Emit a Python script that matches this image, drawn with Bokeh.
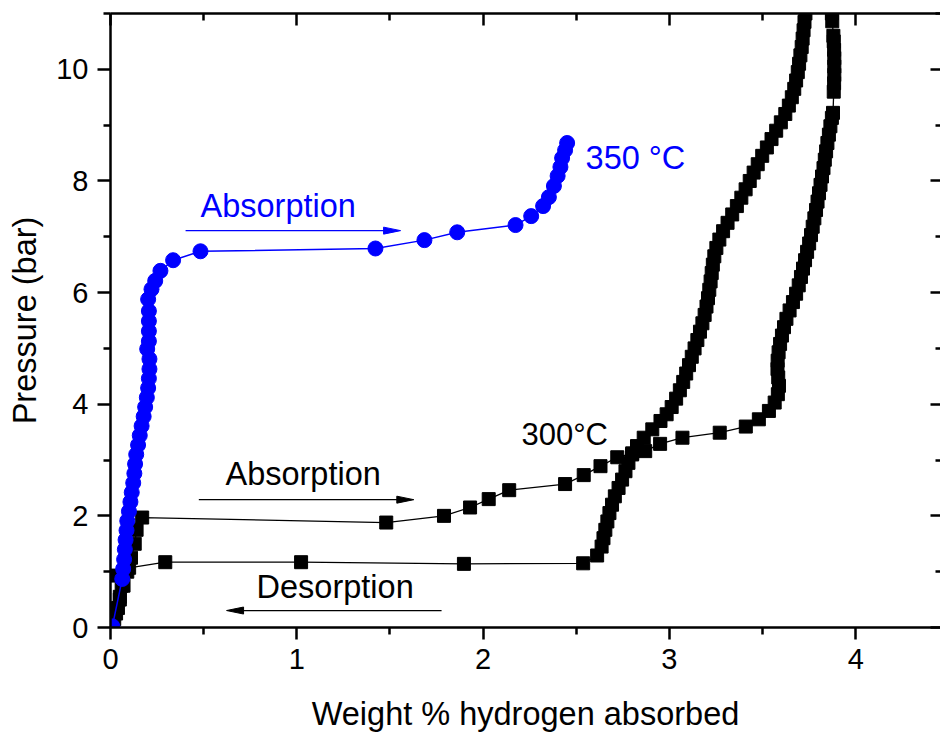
from bokeh.plotting import figure
from bokeh.models import LinearAxis, Range1d, FixedTicker, Label
from bokeh.embed import file_html
from bokeh.resources import INLINE

# ---------------- data ----------------
X_TICKS = [0, 1, 2, 3, 4]
X_MINOR = [0.5, 1.5, 2.5, 3.5]
Y_TICKS = [0, 2, 4, 6, 8, 10]
Y_MINOR = [1, 3, 5, 7, 9, 11]

# 300 C absorption (wt%, bar)
abs300_x = [0.00, 0.03, 0.05, 0.07, 0.09, 0.11, 0.13, 0.14, 0.17, 1.48, 1.79, 1.93, 2.03,
            2.14, 2.44, 2.54, 2.63, 2.72, 2.80, 2.87, 2.95, 3.07, 3.27, 3.41, 3.48, 3.534,
            3.565, 3.582, 3.588, 3.584, 3.580, 3.581, 3.586, 3.594, 3.604, 3.615, 3.628,
            3.645, 3.663, 3.680, 3.694, 3.706, 3.717, 3.728, 3.739, 3.750, 3.760, 3.769,
            3.778, 3.787, 3.795, 3.803, 3.811, 3.819, 3.827, 3.834, 3.841, 3.848, 3.856,
            3.864, 3.872, 3.878, 3.882, 3.884, 3.885, 3.885, 3.885, 3.884, 3.882, 3.880,
            3.874, 3.872, 3.870]
abs300_y = [0.00, 0.25, 0.50, 0.75, 1.00, 1.25, 1.50, 1.75, 1.97, 1.88, 2.00, 2.15, 2.30,
            2.46, 2.57, 2.73, 2.89, 3.05, 3.12, 3.16, 3.29, 3.40, 3.49, 3.60, 3.73, 3.88,
            4.03, 4.18, 4.33, 4.48, 4.63, 4.78, 4.93, 5.08, 5.23, 5.38, 5.53,
            5.68, 5.83, 5.98, 6.13, 6.28, 6.43, 6.58, 6.73, 6.88, 7.03, 7.18,
            7.33, 7.48, 7.63, 7.78, 7.93, 8.08, 8.23, 8.38, 8.53, 8.68, 8.83,
            8.98, 9.13, 9.22, 9.60, 9.75, 9.90, 10.05, 10.20, 10.35, 10.50, 10.60,
            10.86, 11.00, 11.15]

# 300 C desorption (wt%, bar)
des300_x = [3.735, 3.730, 3.725, 3.720, 3.715, 3.710, 3.703, 3.696, 3.689, 3.680, 3.670,
            3.657, 3.641, 3.622, 3.598, 3.573, 3.548, 3.523, 3.498, 3.474, 3.452, 3.431,
            3.409, 3.386, 3.362, 3.337, 3.312, 3.288, 3.268, 3.252, 3.241, 3.233, 3.227,
            3.221, 3.214, 3.207, 3.199, 3.189, 3.177, 3.164, 3.150, 3.135, 3.120, 3.105,
            3.090, 3.074, 3.056, 3.036, 3.012, 2.985, 2.952, 2.908, 2.862, 2.826, 2.800,
            2.780, 2.764, 2.746, 2.727, 2.707, 2.692, 2.678, 2.667, 2.656, 2.646, 2.636,
            2.612, 2.537, 1.897, 1.023, 0.294, 0.10, 0.02, 0.06, 0.05, 0.04, 0.02, 0.01]
des300_y = [11.15, 11.00, 10.85, 10.70, 10.55, 10.40, 10.25, 10.10, 9.95, 9.80, 9.65,
            9.50, 9.35, 9.20, 9.05, 8.90, 8.75, 8.60, 8.45, 8.30, 8.15, 8.00,
            7.85, 7.70, 7.55, 7.40, 7.25, 7.10, 6.95, 6.80, 6.65, 6.50, 6.35,
            6.20, 6.05, 5.90, 5.75, 5.60, 5.45, 5.30, 5.15, 5.00, 4.85, 4.70,
            4.55, 4.40, 4.25, 4.10, 3.95, 3.82, 3.70, 3.55, 3.40, 3.25, 3.10,
            2.95, 2.80, 2.65, 2.50, 2.35, 2.20, 2.05, 1.90, 1.75, 1.60, 1.45,
            1.29, 1.15, 1.14, 1.17, 1.17, 1.07, 0.93, 0.75, 0.55, 0.35, 0.15, 0.00]

# 350 C absorption (wt%, bar)
abs350_x = [0.010, 0.063, 0.068, 0.073, 0.077, 0.081, 0.086, 0.090, 0.099, 0.107, 0.114,
            0.122, 0.128, 0.132, 0.138, 0.148, 0.157, 0.167, 0.178, 0.186, 0.195, 0.202,
            0.206, 0.209, 0.209, 0.197, 0.206, 0.206, 0.206, 0.206, 0.202, 0.220, 0.240,
            0.268, 0.336, 0.483, 1.422, 1.685, 1.861, 2.174, 2.258, 2.322, 2.353, 2.380,
            2.400, 2.415, 2.424, 2.440, 2.451]
abs350_y = [0.02, 0.87, 1.05, 1.22, 1.40, 1.57, 1.74, 1.91, 2.08, 2.25, 2.42,
            2.59, 2.76, 2.93, 3.10, 3.27, 3.44, 3.61, 3.78, 3.95, 4.12, 4.29,
            4.46, 4.63, 4.81, 4.99, 5.13, 5.31, 5.49, 5.67, 5.88, 6.06, 6.21,
            6.39, 6.58, 6.74, 6.79, 6.94, 7.08, 7.21, 7.37, 7.55, 7.71, 7.91,
            8.09, 8.25, 8.41, 8.55, 8.68]

# ---------------- styling constants ----------------
FONT = "Liberation Sans"
BLUE = "#0000FF"
BLACK = "#000000"
X_END = 4.455
Y_END = 11.0
FRAME_W = 830
FRAME_H = 614
SX = FRAME_W / X_END
SY = FRAME_H / Y_END

p = figure(width=940, height=734, x_range=Range1d(0, X_END), y_range=Range1d(0, Y_END),
           output_backend="svg", toolbar_location=None,
           min_border_left=110, min_border_right=0, min_border_top=13, min_border_bottom=107)
p.grid.visible = False
p.outline_line_color = None
p.background_fill_color = "white"
p.border_fill_color = "white"

def style_axis(ax, ticks, minor, label=None):
    ax.ticker = FixedTicker(ticks=ticks, minor_ticks=minor)
    ax.axis_line_width = 2.5
    ax.axis_line_color = BLACK
    ax.major_tick_line_width = 2.5
    ax.minor_tick_line_width = 2.5
    ax.major_tick_line_color = BLACK
    ax.minor_tick_line_color = BLACK
    ax.major_label_text_font = FONT
    ax.major_label_text_font_size = "29px"
    ax.major_label_text_color = BLACK
    ax.axis_label_text_font = FONT
    ax.axis_label_text_font_size = "32.5px"
    ax.axis_label_text_font_style = "normal"
    ax.axis_label_text_color = BLACK
    if label is not None:
        ax.axis_label = label

xa = p.xaxis[0]
style_axis(xa, X_TICKS, X_MINOR, "Weight % hydrogen absorbed")
xa.major_tick_out = 12
xa.major_tick_in = 0
xa.minor_tick_out = 7
xa.minor_tick_in = 0
xa.major_label_standoff = 9
xa.axis_label_standoff = 24

ya = p.yaxis[0]
style_axis(ya, Y_TICKS, Y_MINOR, "Pressure (bar)")
ya.major_tick_out = 13
ya.major_tick_in = 0
ya.minor_tick_out = 7
ya.minor_tick_in = 0
ya.major_label_standoff = 9
ya.axis_label_standoff = 10
ya.major_label_orientation = "horizontal"

top = LinearAxis()
style_axis(top, X_TICKS, X_MINOR)
top.major_tick_in = 12
top.major_tick_out = 0
top.minor_tick_in = 7
top.minor_tick_out = 0
top.major_label_text_font_size = "0px"
top.major_label_standoff = 0
top.major_label_overrides = {t: "" for t in X_TICKS}
p.add_layout(top, "above")

right = LinearAxis()
style_axis(right, Y_TICKS, Y_MINOR)
right.axis_line_color = None
right.major_tick_in = 10
right.major_tick_out = 0
right.minor_tick_in = 5
right.minor_tick_out = 0
right.major_label_text_font_size = "0px"
right.major_label_standoff = 0
right.major_label_overrides = {t: "" for t in Y_TICKS}
p.add_layout(right, "right")

# ---------------- data marks ----------------
p.line(abs300_x, abs300_y, line_color=BLACK, line_width=1.3)
p.scatter(abs300_x, abs300_y, marker="square", size=13, fill_color=BLACK, line_color=BLACK)
p.line(des300_x, des300_y, line_color=BLACK, line_width=1.3)
p.scatter(des300_x, des300_y, marker="square", size=13, fill_color=BLACK, line_color=BLACK)

p.line(abs350_x, abs350_y, line_color=BLUE, line_width=1.5)
p.scatter(abs350_x, abs350_y, marker="circle", size=15, fill_color=BLUE, line_color=BLUE)

# ---------------- arrows (annotation positions) ----------------
ARROWS = [  # (x_start, x_tip, y, color)
    (0.403, 1.557, 7.11, BLUE),
    (0.474, 1.628, 2.29, BLACK),
    (1.777, 0.623, 0.304, BLACK),
]
HEAD_LEN = 17
HEAD_HALF = 3.5
for xs, xt, yy, col in ARROWS:
    d = 1 if xt > xs else -1
    p.line([xs, xt - d * HEAD_LEN / SX * 0.5], [yy, yy], line_color=col, line_width=1.3)
    base = xt - d * HEAD_LEN / SX
    p.patch([xt, base, base], [yy, yy + HEAD_HALF / SY, yy - HEAD_HALF / SY],
            fill_color=col, line_color=col, line_width=1)

# ---------------- texts (anchored at their vertical middle) ----------------
LABELS = [  # (x, y, text, color, size)
    (0.483, 7.553, "Absorption", BLUE, "32.5px"),
    (2.55, 8.42, "350 °C", BLUE, "32.5px"),
    (2.206, 3.463, "300°C", BLACK, "31px"),
    (0.617, 2.746, "Absorption", BLACK, "32.5px"),
    (0.784, 0.717, "Desorption", BLACK, "32.5px"),
]
for lx, ly, t, col, fs in LABELS:
    p.add_layout(Label(x=lx, y=ly, text=t, text_color=col, text_font=FONT,
                       text_font_size=fs, text_align="left", text_baseline="middle"))

open("out.html", "w").write(file_html(p, INLINE))
